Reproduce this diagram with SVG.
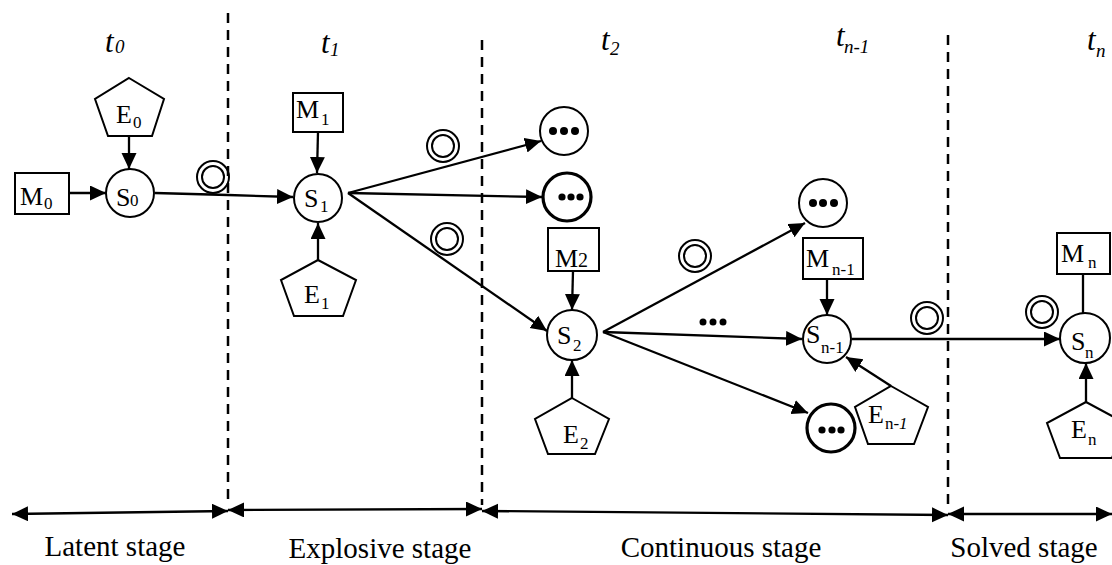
<svg xmlns="http://www.w3.org/2000/svg" width="1112" height="565" viewBox="0 0 1112 565">
<style>
.ln{stroke:#000;stroke-width:2.3;fill:none}
.nd{fill:#fff;stroke:#000;stroke-width:2}
.bd{stroke-width:3.2}
.dc{fill:none;stroke:#000;stroke-width:2}
.dash{stroke:#000;stroke-width:2.5;stroke-dasharray:10 7;fill:none}
.lbl{font-family:"Liberation Serif",serif;font-size:26px;fill:#000}
.sub{font-size:17px}
.t{font-family:"Liberation Serif",serif;font-style:italic;font-size:31px;fill:#000}
.ts{font-size:19px}
.stage{font-family:"Liberation Serif",serif;font-size:29px;fill:#000;text-anchor:middle}
.dot{fill:#000}
</style>
<defs>
<marker id="ah" markerUnits="userSpaceOnUse" markerWidth="17" markerHeight="16" refX="16" refY="7.5" orient="auto-start-reverse">
<path d="M0,0 L16,7.5 L0,15 z" fill="#000"/>
</marker>
</defs>
<rect width="1112" height="565" fill="#fff"/>

<g id="time-labels">
<text class="t" x="105" y="52">t<tspan class="ts" x="115" y="53">0</tspan></text>
<text class="t" x="321" y="53">t<tspan class="ts" x="330" y="56">1</tspan></text>
<text class="t" x="601" y="50">t<tspan class="ts" x="610" y="55">2</tspan></text>
<text class="t" x="836" y="46">t<tspan class="ts" x="844" y="53">n-1</tspan></text>
<text class="t" x="1087" y="50">t<tspan class="ts" x="1096" y="57">n</tspan></text>
</g>

<g id="dividers">
<line class="dash" x1="228" y1="13" x2="228" y2="505"/>
<line class="dash" x1="482" y1="40" x2="482" y2="505"/>
<line class="dash" x1="948" y1="35" x2="948" y2="505"/>
</g>

<g id="connectors">
<line class="ln" x1="69" y1="193" x2="106" y2="193" marker-end="url(#ah)"/>
<line class="ln" x1="129" y1="136" x2="129" y2="169" marker-end="url(#ah)"/>
<polyline class="ln" points="155,193 228,195 293,197" marker-end="url(#ah)"/>
<line class="ln" x1="318" y1="132" x2="317" y2="173" marker-end="url(#ah)"/>
<line class="ln" x1="318" y1="260" x2="318" y2="223" marker-end="url(#ah)"/>
<line class="ln" x1="348" y1="193" x2="541" y2="141" marker-end="url(#ah)"/>
<line class="ln" x1="348" y1="193" x2="542" y2="197" marker-end="url(#ah)"/>
<line class="ln" x1="348" y1="193" x2="547" y2="331" marker-end="url(#ah)"/>
<line class="ln" x1="573" y1="271" x2="572" y2="310" marker-end="url(#ah)"/>
<line class="ln" x1="572" y1="398" x2="572" y2="360" marker-end="url(#ah)"/>
<line class="ln" x1="603" y1="332" x2="805" y2="223" marker-end="url(#ah)"/>
<line class="ln" x1="603" y1="332" x2="802" y2="339" marker-end="url(#ah)"/>
<line class="ln" x1="603" y1="332" x2="808" y2="413" marker-end="url(#ah)"/>
<line class="ln" x1="827" y1="279" x2="827" y2="315" marker-end="url(#ah)"/>
<line class="ln" x1="891" y1="386" x2="846" y2="357" marker-end="url(#ah)"/>
<line class="ln" x1="852" y1="339" x2="1060" y2="339" marker-end="url(#ah)"/>
<line class="ln" x1="1083" y1="274" x2="1083" y2="313"/>
<line class="ln" x1="1086" y1="402" x2="1086" y2="363" marker-end="url(#ah)"/>
<line class="ln" x1="12" y1="514" x2="228" y2="511" marker-start="url(#ah)" marker-end="url(#ah)"/>
<line class="ln" x1="228" y1="510" x2="482" y2="509" marker-start="url(#ah)" marker-end="url(#ah)"/>
<line class="ln" x1="482" y1="511" x2="948" y2="515" marker-start="url(#ah)" marker-end="url(#ah)"/>
<line class="ln" x1="948" y1="514" x2="1112" y2="514" marker-start="url(#ah)" marker-end="url(#ah)"/>
</g>

<g id="transitions">
<circle class="dc" cx="213" cy="177" r="16"/><circle class="dc" cx="213" cy="177" r="11"/>
<circle class="dc" cx="443" cy="146" r="16"/><circle class="dc" cx="443" cy="146" r="11"/>
<circle class="dc" cx="447" cy="239" r="16"/><circle class="dc" cx="447" cy="239" r="11"/>
<circle class="dc" cx="695" cy="256" r="16"/><circle class="dc" cx="695" cy="256" r="11"/>
<circle class="dc" cx="927" cy="318" r="16"/><circle class="dc" cx="927" cy="318" r="11"/>
<circle class="dc" cx="1042" cy="312" r="16"/><circle class="dc" cx="1042" cy="312" r="11"/>
<circle class="dot" cx="703" cy="322" r="3.5"/><circle class="dot" cx="713" cy="322" r="3.5"/><circle class="dot" cx="723" cy="322" r="3.5"/>
</g>

<g id="M0"><rect class="nd" x="15" y="173" width="54" height="41"/><text class="lbl" x="20" y="205">M<tspan class="sub" x="44" y="209">0</tspan></text></g>
<g id="S0"><circle class="nd" cx="130" cy="193" r="24"/><text class="lbl" x="116" y="206">S<tspan class="sub" x="130" y="206">0</tspan></text></g>
<g id="E0"><polygon class="nd" points="129,78 164,99 152,136 108,136 95,99"/><text class="lbl" x="116" y="123">E<tspan class="sub" x="133" y="128">0</tspan></text></g>

<g id="M1"><rect class="nd" x="293" y="93" width="50" height="39"/><text class="lbl" x="296" y="118">M<tspan class="sub" x="321" y="125">1</tspan></text></g>
<g id="S1"><circle class="nd" cx="318" cy="198" r="24"/><text class="lbl" x="304" y="207">S<tspan class="sub" x="320" y="212">1</tspan></text></g>
<g id="E1"><polygon class="nd" points="318,260 356,280 343,316 294,316 281,280"/><text class="lbl" x="304" y="303">E<tspan class="sub" x="321" y="309">1</tspan></text></g>

<g id="N1"><circle class="nd" cx="564" cy="131" r="24"/><circle class="dot" cx="553" cy="131" r="4"/><circle class="dot" cx="564" cy="131" r="4"/><circle class="dot" cx="575" cy="131" r="4"/></g>
<g id="N2"><circle class="nd bd" cx="567" cy="197" r="24"/><circle class="dot" cx="562" cy="197" r="3.6"/><circle class="dot" cx="571" cy="197" r="3.6"/><circle class="dot" cx="580" cy="197" r="3.6"/></g>

<g id="M2"><rect class="nd" x="548" y="228" width="51" height="43"/><text class="lbl" x="555" y="267">M<tspan font-size="20px" x="578" y="267">2</tspan></text></g>
<g id="S2"><circle class="nd" cx="572" cy="335" r="25"/><text class="lbl" x="557" y="344">S<tspan class="sub" x="573" y="351">2</tspan></text></g>
<g id="E2"><polygon class="nd" points="572,398 609,419 595,454 548,454 535,419"/><text class="lbl" x="563" y="443">E<tspan class="sub" x="580" y="449">2</tspan></text></g>

<g id="N3"><circle class="nd" cx="823" cy="203" r="24"/><circle class="dot" cx="813" cy="203" r="4"/><circle class="dot" cx="823" cy="203" r="4"/><circle class="dot" cx="834" cy="203" r="4"/></g>
<g id="N4"><circle class="nd bd" cx="831" cy="428" r="24"/><circle class="dot" cx="822" cy="430" r="3.6"/><circle class="dot" cx="832" cy="430" r="3.6"/><circle class="dot" cx="841" cy="430" r="3.6"/></g>

<g id="Mn-1"><rect class="nd" x="803" y="238" width="60" height="41"/><text class="lbl" x="806" y="267">M<tspan class="sub" x="832" y="275">n-1</tspan></text></g>
<g id="Sn-1"><circle class="nd" cx="827" cy="339" r="24"/><text class="lbl" x="806" y="343">S<tspan class="sub" x="821" y="353">n-1</tspan></text></g>
<g id="En-1"><polygon class="nd" points="891,386 928,407 914,444 868,444 855,407"/><text class="lbl" x="868" y="423">E<tspan class="sub" x="885" y="429">n-</tspan><tspan class="sub" font-style="italic" x="899" y="429">1</tspan></text></g>

<g id="Mn"><rect class="nd" x="1057" y="233" width="53" height="41"/><text class="lbl" x="1061" y="262">M<tspan class="sub" x="1088" y="268">n</tspan></text></g>
<g id="Sn"><circle class="nd" cx="1085" cy="338" r="25"/><text class="lbl" x="1071" y="350">S<tspan class="sub" x="1085" y="358">n</tspan></text></g>
<g id="En"><polygon class="nd" points="1086,402 1125,423 1112,458 1060,458 1047,423"/><text class="lbl" x="1071" y="438">E<tspan class="sub" x="1088" y="445">n</tspan></text></g>

<g id="stages">
<text class="stage" x="115" y="556">Latent stage</text>
<text class="stage" x="380" y="558">Explosive stage</text>
<text class="stage" x="721" y="557">Continuous stage</text>
<text class="stage" x="1024" y="557">Solved stage</text>
</g>
</svg>
